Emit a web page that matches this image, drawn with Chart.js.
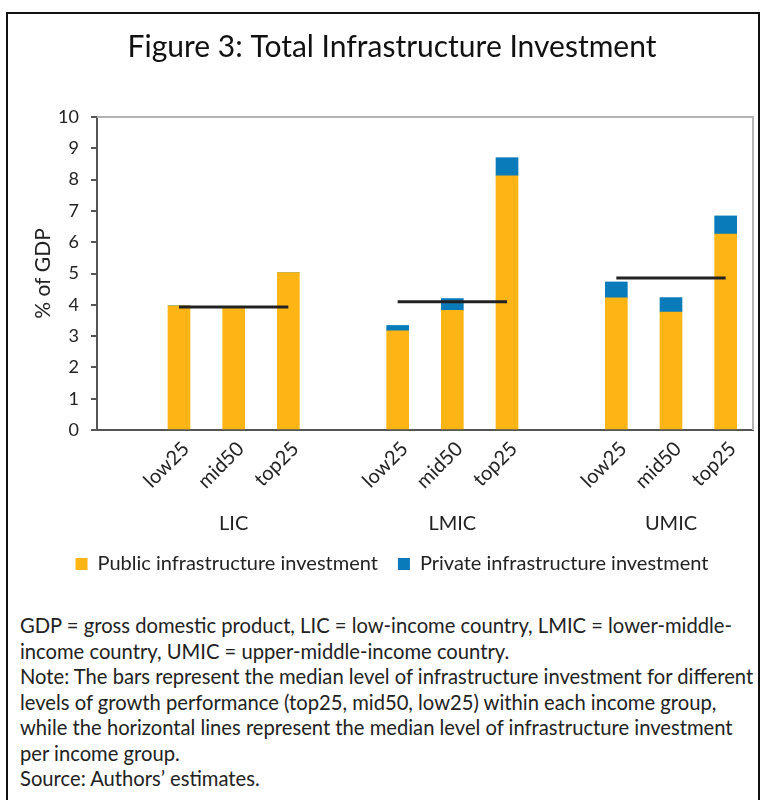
<!DOCTYPE html>
<html>
<head>
<meta charset="utf-8">
<script src="https://cdn.jsdelivr.net/npm/chart.js@4"></script>
<style>
  body { margin: 0; background: #fff; font-family: Lato, sans-serif; }
  #frame { position: absolute; left: 6px; top: 12px; width: 750px; height: 800px; border: 2px solid #111; }
  #wrap { position: absolute; left: 0; top: 0; width: 764px; height: 588px; }
  #notes { position: absolute; left: 20px; top: 613px; font-size: 20.2px; line-height: 25.5px; color: #222; white-space: nowrap; }
</style>
</head>
<body>
<div id="frame"></div>
<div id="wrap"><canvas id="chart" width="764" height="588"></canvas></div>
<div id="notes">
GDP = gross domestic product, LIC = low-income country, LMIC = lower-middle-<br>
income country, UMIC = upper-middle-income country.<br>
Note: The bars represent the median level of infrastructure investment for different<br>
levels of growth performance (top25, mid50, low25) within each income group,<br>
while the horizontal lines represent the median level of infrastructure investment<br>
per income group.<br>
Source: Authors’ estimates.
</div>
<script>
const groups = ["LIC", "LMIC", "UMIC"];
const levels = ["low25", "mid50", "top25"];
const publicInv = [3.97, 3.9, 5.03, 3.17, 3.82, 8.12, 4.22, 3.77, 6.26];
const privateInv = [0, 0, 0, 0.17, 0.38, 0.58, 0.51, 0.46, 0.58];
const medians = [3.93, 4.1, 4.86];
const yTicks = [0, 1, 2, 3, 4, 5, 6, 7, 8, 9, 10];

// 12 slots: empty slot before each group of three bars
const labels = [], groupLabels = [];
groups.forEach(g => {
    labels.push("", ...levels);
    groupLabels.push("", "", g, "");
});
function spread(vals) {
    const out = [];
    groups.forEach((g, i) => { out.push(null, ...vals.slice(i * 3, i * 3 + 3)); });
    return out;
}
const medianSets = medians.map((m, i) => {
    const d = labels.map(() => null);
    for (let k = 1; k <= 3; k++) d[i * 4 + k] = m;
    return {
        type: "line", data: d, borderColor: "#222", borderWidth: 3,
        pointRadius: 0, stack: "m" + i, spanGaps: false, label: "median" + i
    };
});

const frameLines = {
    id: "frameLines",
    afterDraw(c) {
        const a = c.chartArea, x = c.ctx;
        x.save();
        x.strokeStyle = "#b3b3b3"; x.lineWidth = 2;
        x.beginPath();
        x.moveTo(a.left, a.top); x.lineTo(a.right, a.top); x.lineTo(a.right, a.bottom);
        x.stroke();
        x.restore();
    }
};

new Chart(document.getElementById("chart"), {
    type: "bar",
    data: {
        labels: labels,
        datasets: [
            ...medianSets,
            { label: "Public infrastructure investment", data: spread(publicInv), backgroundColor: "#FDB515", stack: "bars", barThickness: 22 },
            { label: "Private infrastructure investment", data: spread(privateInv), backgroundColor: "#0A7BBA", stack: "bars", barThickness: 22 }
        ]
    },
    options: {
        responsive: false,
        animation: false,
        layout: { padding: { left: 31, right: 11, top: 0, bottom: 4 } },
        plugins: {
            title: {
                display: true, text: "Figure 3: Total Infrastructure Investment",
                color: "#111", font: { family: "Lato", size: 30, weight: "normal" },
                padding: { top: 29, bottom: 52 }
            },
            legend: {
                position: "bottom",
                labels: {
                    color: "#222", font: { family: "Lato", size: 20 },
                    boxWidth: 12, boxHeight: 12, padding: 20,
                    filter: it => !it.text.startsWith("median")
                }
            },
            tooltip: { enabled: false }
        },
        scales: {
            x: {
                stacked: true,
                grid: { display: false, drawTicks: false },
                border: { color: "#555", width: 2 },
                ticks: { color: "#222", font: { family: "Lato", size: 20 }, minRotation: 45, maxRotation: 45, autoSkip: false, padding: 7, labelOffset: 7 },
                afterFit: s => { s.height = 74; }
            },
            x2: {
                type: "category", position: "bottom", labels: groupLabels,
                grid: { display: false, drawTicks: false }, border: { display: false },
                ticks: { color: "#222", font: { family: "Lato", size: 20 }, maxRotation: 0, autoSkip: false, padding: 8 },
                afterFit: s => { s.height = 30; }
            },
            y: {
                stacked: true, min: 0, max: 10,
                afterBuildTicks: s => { s.ticks = yTicks.map(v => ({ value: v })); },
                grid: { drawOnChartArea: false, drawTicks: true, tickLength: 6, color: "#555", lineWidth: 2 },
                border: { color: "#555", width: 2 },
                ticks: { color: "#222", font: { family: "Lato", size: 18 }, padding: 12 },
                title: { display: true, text: "% of GDP", color: "#222", font: { family: "Lato", size: 21 }, padding: 0 },
                afterFit: s => { s.width = 66; }
            }
        }
    },
    plugins: [frameLines]
});
</script>
</body>
</html>
